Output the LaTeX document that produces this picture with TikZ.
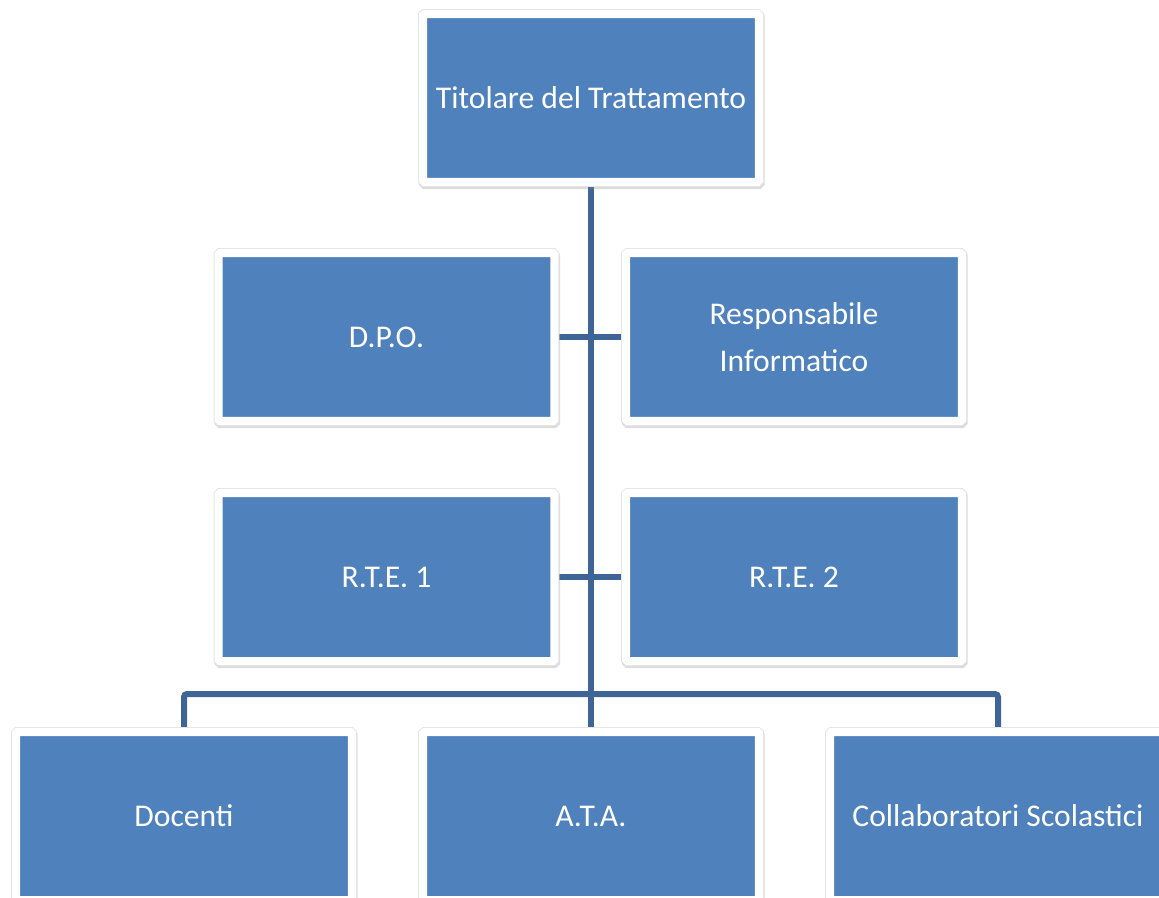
\documentclass[tikz,border=0pt]{standalone}
\usepackage{fontspec}
\setmainfont{Carlito}
\usetikzlibrary{shadows,backgrounds}
\definecolor{boxblue}{HTML}{4F81BD}
\definecolor{lineblue}{HTML}{3F6596}
\tikzset{
  orgbox/.style={rectangle,fill=boxblue,draw=white,line width=0.16cm,rounded corners=0.03cm,
    minimum width=6.72cm,minimum height=3.36cm,inner sep=0pt,text=white,align=center,
    font=\fontsize{18pt}{27pt}\selectfont,
    drop shadow={shadow xshift=0.015cm,shadow yshift=-0.045cm,opacity=0.3,
      fill=black!45,draw=black!45,line width=0.2cm},
    preaction={draw=black!10,line width=0.2cm}},
  orgline/.style={draw=lineblue,line width=0.12cm}
}
\begin{document}
\begin{tikzpicture}[x=0.02cm,y=-0.02cm]
\useasboundingbox (0,0) rectangle (1159,897);
\clip (0,0) rectangle (1159,897);
\node[orgbox](tit)at(591,98){Titolare del Trattamento};
\node[orgbox](dpo)at(386.5,337){D.P.O.};
\node[orgbox](resp)at(794,337){Responsabile\\Informatico};
\node[orgbox](rte1)at(386.5,577){R.T.E. 1};
\node[orgbox](rte2)at(794,577){R.T.E. 2};
\node[orgbox](doc)at(184,816){Docenti};
\node[orgbox](ata)at(591,816){A.T.A.};
\node[orgbox](coll)at(998,816){Collaboratori Scolastici};
\coordinate (bus) at (591,694);
\begin{scope}[on background layer]
\draw[orgline] (tit.south) -- (ata.north);
\draw[orgline] (dpo.east) -- (resp.west);
\draw[orgline] (rte1.east) -- (rte2.west);
\draw[orgline,rounded corners=0.06cm] (doc.north) |- (bus) -| (coll.north);
\end{scope}
\end{tikzpicture}
\end{document}
